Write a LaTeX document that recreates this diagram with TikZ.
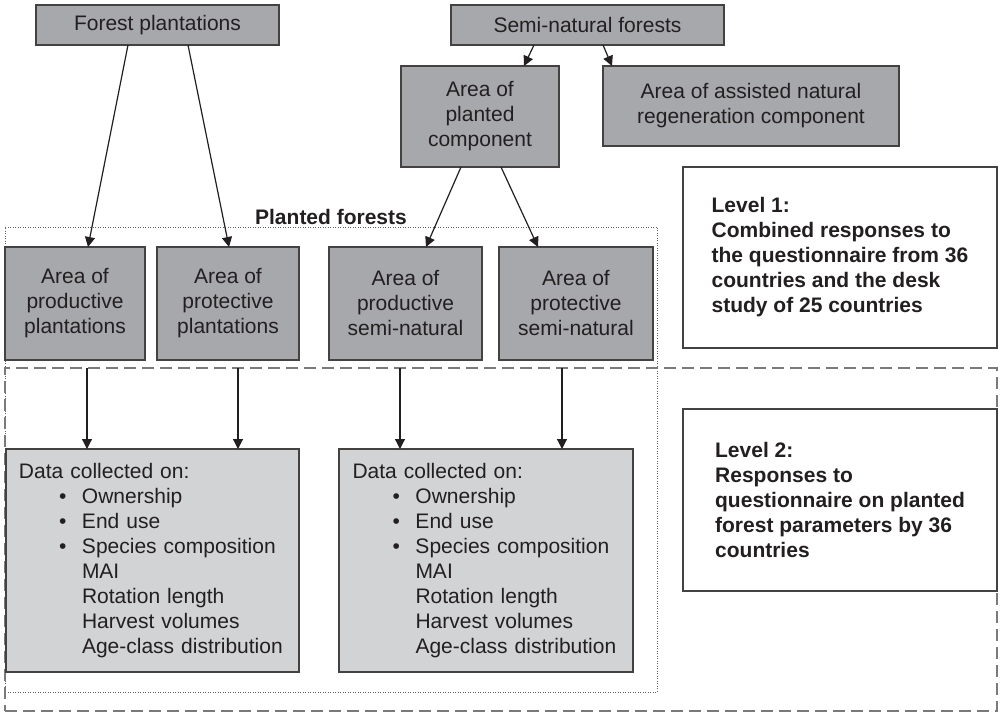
\documentclass[tikz,border=0pt]{standalone}
\usepackage{fontspec}
\setmainfont{Liberation Sans}
\usetikzlibrary{arrows.meta,calc}
\definecolor{boxdark}{RGB}{167,168,171}
\definecolor{boxlight}{RGB}{210,211,213}
\definecolor{ink}{RGB}{35,31,32}
\newcommand{\dcbullet}[1]{\hspace*{40pt}\makebox[23pt][l]{\textbullet}#1}
\newcommand{\dcplain}[1]{\hspace*{63pt}#1}
\begin{document}
\begin{tikzpicture}[x=1pt,y=-1pt,
  every node/.style={outer sep=0pt, text=ink, font=\fontsize{21}{25}\selectfont},
  darkbox/.style={draw=ink!85, line width=1.3pt, fill=boxdark, align=center, inner sep=0pt},
  databox/.style={draw=ink!85, line width=1.3pt, fill=boxlight, align=left, inner xsep=13pt, inner ysep=0pt, text width=267pt, minimum width=293pt, minimum height=223pt},
  levelbox/.style={draw=ink!85, line width=1.3pt, fill=white, align=left, inner sep=0pt, minimum width=314pt, font=\fontsize{21}{25}\selectfont\bfseries},
  arr/.style={line width=1.2pt, draw=ink, -{Triangle[length=10pt,width=10pt]}},
  dottedzone/.style={draw=ink!70, line width=1pt, dash pattern=on 1pt off 1.5pt, inner sep=0pt},
  dashedzone/.style={draw=ink!60, line width=1.3pt, dash pattern=on 12pt off 6pt, inner sep=0pt},
]
\useasboundingbox (0,0) rectangle (1002,712);

% zones
\node[dottedzone, minimum width=652pt, minimum height=465pt] (zone1) at (331,459.5) {};
\node[dashedzone, minimum width=992pt, minimum height=343pt] (zone2) at (501,539.5) {};

% top boxes
\node[darkbox, minimum width=243pt, minimum height=40pt] (fp) at (157.5,25) {Forest plantations};
\node[darkbox, minimum width=273pt, minimum height=40pt] (sn) at (587.5,25) {Semi-natural forests};
\node[darkbox, minimum width=158pt, minimum height=101pt] (apc) at (480,116.5) {Area of\\planted\\component};
\node[darkbox, minimum width=296pt, minimum height=80pt] (anr) at (751,106) {Area of assisted natural\\regeneration component};

\node[font=\fontsize{21}{25}\selectfont\bfseries] (pf) at (331,217) {Planted forests};

% second row
\node[darkbox, minimum width=140pt, minimum height=113pt] (b1) at (75,303.5) {Area of\\productive\\plantations};
\node[darkbox, minimum width=142pt, minimum height=113pt] (b2) at (228,303.5) {Area of\\protective\\plantations};
\node[darkbox, minimum width=153pt, minimum height=113pt] (b3) at (405.5,303.5) {Area of\\productive\\semi-natural};
\node[darkbox, minimum width=154pt, minimum height=113pt] (b4) at (576,303.5) {Area of\\protective\\semi-natural};

% data boxes
\node[databox] (d1) at (152.5,560.5) {Data collected on:\\
\dcbullet{Ownership}\\
\dcbullet{End use}\\
\dcbullet{Species composition}\\
\dcplain{MAI}\\
\dcplain{Rotation length}\\
\dcplain{Harvest volumes}\\
\dcplain{Age-class distribution}};
\node[databox, minimum width=294pt] (d2) at (486,560.5) {Data collected on:\\
\dcbullet{Ownership}\\
\dcbullet{End use}\\
\dcbullet{Species composition}\\
\dcplain{MAI}\\
\dcplain{Rotation length}\\
\dcplain{Harvest volumes}\\
\dcplain{Age-class distribution}};

% level boxes
\node[levelbox, minimum height=181pt] (l1) at (840,257.5) {Level 1:\\Combined responses to\\the questionnaire from 36\\countries and the desk\\study of 25 countries};
\node[levelbox, minimum height=182pt] (l2) at (840,500) {Level 2:\\Responses to\\questionnaire on planted\\forest parameters by 36\\countries};

% connectors
\draw[arr] ($(fp.south west)+(92,0)$) -- ($(b1.north west)+(83,0)$);
\draw[arr] ($(fp.south west)+(152,0)$) -- ($(b2.north west)+(72,0)$);
\draw[arr] ($(sn.south west)+(83,0)$) -- ($(apc.north west)+(123,0)$);
\draw[arr] ($(sn.south west)+(152,0)$) -- ($(anr.north west)+(9,0)$);
\draw[arr] ($(apc.south west)+(60,0)$) -- ($(b3.north west)+(97,0)$);
\draw[arr] ($(apc.south west)+(100,0)$) -- ($(b4.north west)+(39,0)$);

\coordinate (x1) at (87,0);
\coordinate (x2) at (238,0);
\coordinate (x3) at (400,0);
\coordinate (x4) at (562,0);
\draw[arr] (x1 |- zone2.north) -- (x1 |- d1.north);
\draw[arr] (x2 |- zone2.north) -- (x2 |- d1.north);
\draw[arr] (x3 |- zone2.north) -- (x3 |- d2.north);
\draw[arr] (x4 |- zone2.north) -- (x4 |- d2.north);
\end{tikzpicture}
\end{document}
